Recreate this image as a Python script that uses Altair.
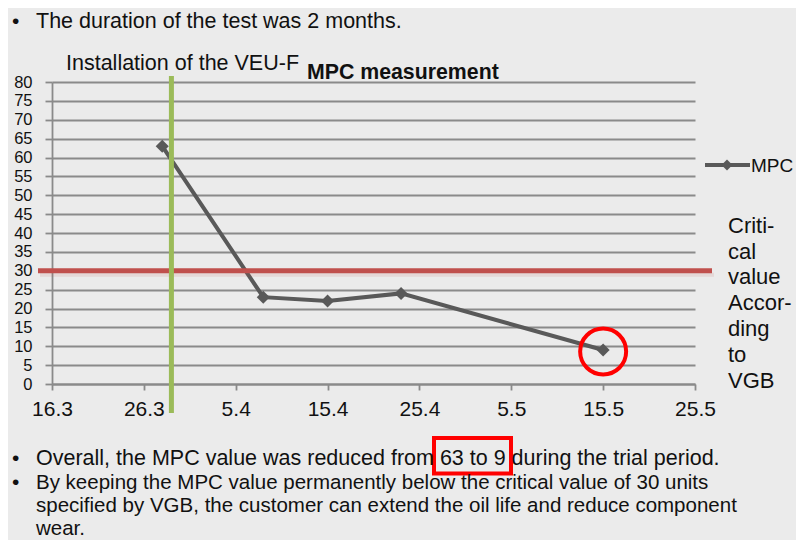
import altair as alt
import pandas as pd

FONT = "Liberation Sans"

# ---- data ----
dates = ["2021-03-28", "2021-04-08", "2021-04-15", "2021-04-23", "2021-05-15"]
mpc = [63, 23, 22, 24, 9]
tick_dates = ["2021-03-16", "2021-03-26", "2021-04-05", "2021-04-15",
              "2021-04-25", "2021-05-05", "2021-05-15", "2021-05-25"]
y_ticks = list(range(0, 81, 5))
critical_value = [30]
install_date = ["2021-03-29"]
series_name = "MPC"


def ms(d):
    return int(pd.Timestamp(d, tz="UTC").timestamp() * 1000)


df = pd.DataFrame({"date": dates, "mpc": mpc})
crit_df = pd.DataFrame({"mpc": critical_value})
inst_df = pd.DataFrame({"date": install_date})
one = pd.DataFrame({"a": [0]})

W, H = 643, 302

xscale = alt.Scale(type="utc", domain=[ms(tick_dates[0]), ms(tick_dates[-1])], nice=False)
yscale = alt.Scale(domain=[0, 80], nice=False)
GRID = "#8a8a8a"
xaxis = alt.Axis(values=[ms(d) for d in tick_dates], tickCount=20,
                 labelExpr="utcFormat(datum.value, '%-d.%-m')",
                 grid=False, domainColor=GRID, domainWidth=1.8,
                 tickColor=GRID, tickWidth=1.8, tickSize=6,
                 labelFontSize=21, labelFont=FONT, labelColor="#111",
                 labelPadding=8, labelFlush=False, labelOverlap=False, labelBound=False)
yaxis = alt.Axis(values=y_ticks, tickCount=40, grid=True, gridColor=GRID, gridWidth=1.8,
                 domainColor=GRID, domainWidth=1.8, tickColor=GRID, tickWidth=1.8,
                 tickSize=7, labelFontSize=16.5, labelFont=FONT, labelColor="#111",
                 labelPadding=13, labelOverlap=False, labelFlush=False)

X = alt.X("date:T", scale=xscale, axis=xaxis, title=None)
Y = alt.Y("mpc:Q", scale=yscale, axis=yaxis, title=None)

line = alt.Chart(df).mark_line(color="#595959", strokeWidth=4).encode(x=X, y=Y)
pts = alt.Chart(df).mark_point(shape="diamond", filled=True, size=170,
                               color="#595959", opacity=1).encode(x=X, y=Y)

crit = alt.Chart(crit_df).mark_rule(color="#C0504D", strokeWidth=5).encode(
    y=Y, x=alt.value(-14), x2=alt.value(660))
crit_shadow = alt.Chart(crit_df).mark_rule(color="#C0504D", strokeWidth=4, opacity=0.12,
                                           yOffset=4).encode(
    y=Y, x=alt.value(-12), x2=alt.value(662))
inst = alt.Chart(inst_df).mark_rule(color="#9BBB59", strokeWidth=5).encode(
    x=X, y=alt.value(-6), y2=alt.value(331))

circle = alt.Chart(df.tail(1)).mark_point(shape="circle", filled=False, color="#FF0000",
                                          strokeWidth=4, size=2116, opacity=1,
                                          yOffset=1.5).encode(x=X, y=Y)


def label(text, px, py, size, weight="normal", line_height=None, color="#111"):
    kw = dict(align="left", baseline="alphabetic", fontSize=size, fontWeight=weight,
              font=FONT, color=color, lineBreak="\n")
    if line_height:
        kw["lineHeight"] = line_height
    return alt.Chart(one).mark_text(**kw).encode(
        x=alt.value(px), y=alt.value(py), text=alt.value(text))


# legend (manual)
leg_line = alt.Chart(one).mark_rule(color="#595959", strokeWidth=4).encode(
    x=alt.value(653), x2=alt.value(698), y=alt.value(83))
leg_pt = alt.Chart(one).mark_point(shape="diamond", filled=True, size=120,
                                   color="#595959", opacity=1).encode(
    x=alt.value(675), y=alt.value(83))
leg_txt = label(series_name, 699, 89.5, 19)

box = alt.Chart(one).mark_rect(fill=None, stroke="#FF0000", strokeWidth=4).encode(
    x=alt.value(382), x2=alt.value(459), y=alt.value(356), y2=alt.value(391.5))

texts = [
    label("•", -40, -54.5, 21),
    label("The duration of the test was 2 months.", -16, -54.5, 21.5),
    label("Installation of the VEU-F", 14, -12, 21.5),
    label("MPC measurement", 255, -3, 21.3, weight="bold"),
    label("Criti-\ncal\nvalue\nAccor-\nding\nto\nVGB", 676, 150.7, 22, line_height=25.9),
    label("•", -40, 383, 21),
    label("Overall, the MPC value was reduced from 63 to 9 during the trial period.", -16, 383, 21.5),
    label("•", -40, 407, 21),
    label("By keeping the MPC value permanently below the critical value of 30 units\n"
          "specified by VGB, the customer can extend the oil life and reduce component\n"
          "wear.", -16, 407, 20.5, line_height=23),
]

chart = alt.layer(line, crit_shadow, crit, inst, pts, circle, leg_line, leg_pt, leg_txt, box,
                  *texts).properties(
    width=W, height=H,
    autosize=alt.AutoSizeParams(type="none"),
    padding={"left": 44, "top": 74, "right": 101, "bottom": 156},
    background="#EBEBEB",
).configure_view(stroke=None)

chart.save("out.html", embed_options={"renderer": "svg", "actions": False})
